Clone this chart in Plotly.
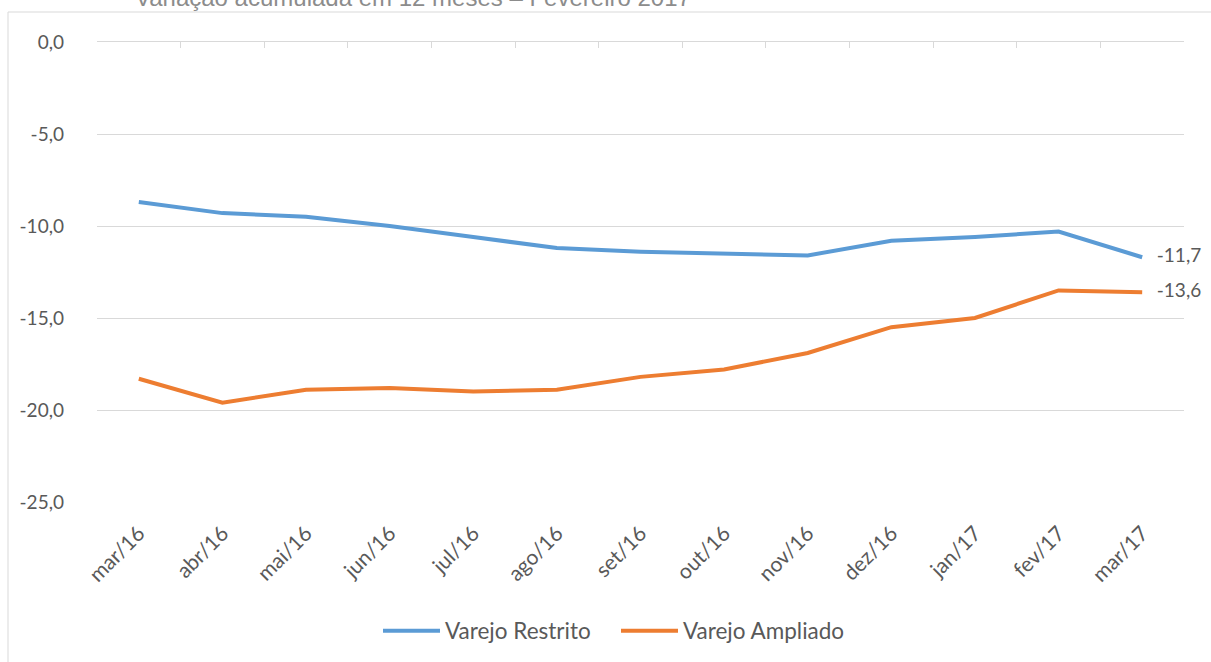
import plotly.graph_objects as go

categories = ["mar/16", "abr/16", "mai/16", "jun/16", "jul/16", "ago/16", "set/16",
              "out/16", "nov/16", "dez/16", "jan/17", "fev/17", "mar/17"]
varejo_restrito = [-8.7, -9.3, -9.5, -10.0, -10.6, -11.2, -11.4, -11.5, -11.6, -10.8, -10.6, -10.3, -11.7]
varejo_ampliado = [-18.3, -19.6, -18.9, -18.8, -19.0, -18.9, -18.2, -17.8, -16.9, -15.5, -15.0, -13.5, -13.6]
y_ticks = [0, -5, -10, -15, -20, -25]
title_text = "Variação acumulada em 12 meses – Fevereiro 2017"

BLUE = "#5B9BD5"
ORANGE = "#ED7D31"
GRID = "#D9D9D9"
TEXT = "#595959"
FONT = "Lato, 'Open Sans', sans-serif"
FS = 19

W, H = 1211, 662
L, R, T, B = 97, 27, 42, 160
pw, ph = W - L - R, H - T - B


def fmt(v):
    return f"{v:.1f}".replace(".", ",")


def end_label(vals):
    return [""] * (len(vals) - 1) + ["\u00a0\u00a0\u00a0" + fmt(vals[-1])]


fig = go.Figure()
fig.add_trace(go.Scatter(
    x=categories, y=varejo_restrito, name="Varejo Restrito", mode="lines+text",
    line=dict(color=BLUE, width=4), text=end_label(varejo_restrito),
    textposition="middle right", textfont=dict(size=FS, color=TEXT, family=FONT),
    cliponaxis=False,
))
fig.add_trace(go.Scatter(
    x=categories, y=varejo_ampliado, name="Varejo Ampliado", mode="lines+text",
    line=dict(color=ORANGE, width=4), text=end_label(varejo_ampliado),
    textposition="middle right", textfont=dict(size=FS, color=TEXT, family=FONT),
    cliponaxis=False,
))
# invisible trace to anchor the top category-boundary axis
fig.add_trace(go.Scatter(
    x=[-0.5, len(categories) - 0.5], y=[0, 0], xaxis="x2", yaxis="y",
    mode="lines", line=dict(width=0), showlegend=False, hoverinfo="skip",
))

fig.update_layout(
    width=W, height=H,
    margin=dict(l=L, r=R, t=T, b=B, autoexpand=False),
    paper_bgcolor="white", plot_bgcolor="white",
    separators=",.",
    font=dict(family=FONT, color=TEXT, size=FS),
    xaxis=dict(
        type="category", categoryarray=categories, range=[-0.5, len(categories) - 0.5],
        showgrid=False, zeroline=False, showline=False, ticks="", automargin=False,
        tickangle=-45, ticklabelstandoff=14, tickfont=dict(size=21, color=TEXT, family=FONT),
    ),
    xaxis2=dict(
        overlaying="x", side="top", range=[-0.5, len(categories) - 0.5],
        tickvals=[i - 0.5 for i in range(len(categories) + 1)], automargin=False,
        showticklabels=False, ticks="inside", ticklen=6, tickcolor=GRID, tickwidth=1,
        showline=True, linecolor=GRID, linewidth=1, showgrid=False, zeroline=False,
    ),
    yaxis=dict(
        range=[-25, 0], tickvals=y_ticks, ticktext=[fmt(v) for v in y_ticks],
        showgrid=True, gridcolor=GRID, gridwidth=1, zeroline=False, showline=False,
        automargin=False,
        ticks="", ticklabelstandoff=32, tickfont=dict(size=FS, color=TEXT, family=FONT),
    ),
    legend=dict(
        orientation="h", x=(378 - L) / pw, xanchor="left",
        y=-(631 - (T + ph)) / ph, yanchor="middle",
        font=dict(size=22.5, color=TEXT, family=FONT),
        entrywidth=166, entrywidthmode="pixels", itemwidth=57,
    ),
    showlegend=True,
)

fig.add_annotation(
    text=title_text, xref="paper", yref="paper",
    x=(413 - L) / pw, y=1 + (T + 3) / ph, xanchor="center", yanchor="middle",
    showarrow=False, font=dict(family="'Liberation Sans', Arial, sans-serif", size=24, color="#8C8C8C"),
)

fig.add_shape(
    type="rect", xref="paper", yref="paper",
    x0=(8 - L) / pw, x1=(W + 20 - L) / pw,
    y0=-(H + 20 - (T + ph)) / ph, y1=1 + (T - 12) / ph,
    line=dict(color=GRID, width=1), fillcolor="rgba(0,0,0,0)", layer="below",
)

fig.write_html(
    "out.html",
    config={"displayModeBar": False},
    post_script="document.body.style.margin='0';document.body.style.overflow='hidden';",
)
